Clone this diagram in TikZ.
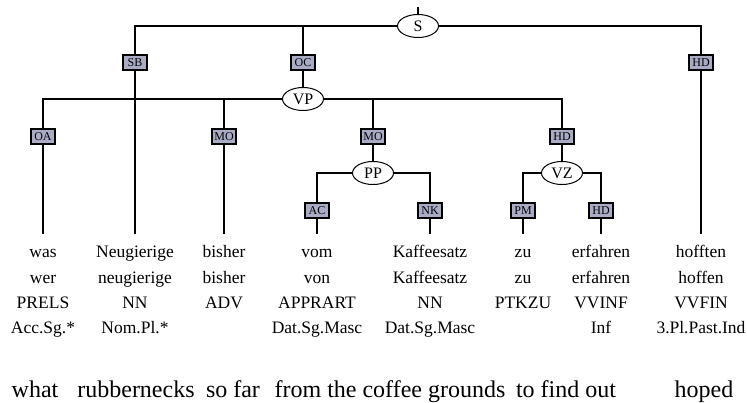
\documentclass[tikz,border=0pt]{standalone}
\usepackage{fontspec}
\setmainfont{Liberation Serif}
\usetikzlibrary{shapes.geometric}
\definecolor{labelgray}{RGB}{170,172,198}
\newcommand{\wordstack}[1]{\begin{tabular}[t]{@{}c@{}}#1\end{tabular}}

\begin{document}
\begin{tikzpicture}[x=1pt,y=-1pt,line width=1.5pt]
    \tikzset{cat/.style={ellipse,draw,fill=white,line width=1pt,minimum width=41pt,minimum height=23pt,inner sep=0pt,font=\fontsize{16}{16}\selectfont}}
    \tikzset{fn/.style={rectangle,draw,fill=labelgray,line width=2pt,minimum width=24pt,minimum height=15pt,inner sep=1.5pt,font=\fontsize{12}{12}\selectfont}}
    \tikzset{word/.style={anchor=north,inner sep=0pt,text height=23pt,font=\fontsize{17.5}{25.3}\selectfont}}
    \tikzset{gloss/.style={anchor=base,inner sep=0pt,font=\fontsize{24}{24}\selectfont}}
    \useasboundingbox (0,0) rectangle (747,403);
    \coordinate (top) at (418,7);
    \node[cat] (S) at (418,26) {S};
    \node[fn] (sb) at (135,63) {SB};
    \node[fn] (oc) at (303,63) {OC};
    \node[fn] (hd1) at (701,63) {HD};
    \node[cat] (VP) at (303,99) {VP};
    \node[fn] (oa) at (43,137) {OA};
    \node[fn] (mo1) at (224,137) {MO};
    \node[fn] (mo2) at (373,137) {MO};
    \node[fn] (hd2) at (562,137) {HD};
    \node[cat] (PP) at (373,173) {PP};
    \node[cat] (VZ) at (562,173) {VZ};
    \node[fn] (ac) at (317,211) {AC};
    \node[fn] (nk) at (430,211) {NK};
    \node[fn] (pm) at (523,211) {PM};
    \node[fn] (hd3) at (601,211) {HD};
    \node[word] (w1) at (43,234) {\wordstack{was\\wer\\PRELS\\Acc.Sg.*}};
    \node[word] (w2) at (135,234) {\wordstack{Neugierige\\neugierige\\NN\\Nom.Pl.*}};
    \node[word] (w3) at (224,234) {\wordstack{bisher\\bisher\\ADV}};
    \node[word] (w4) at (317,234) {\wordstack{vom\\von\\APPRART\\Dat.Sg.Masc}};
    \node[word] (w5) at (430,234) {\wordstack{Kaffeesatz\\Kaffeesatz\\NN\\Dat.Sg.Masc}};
    \node[word] (w6) at (523,234) {\wordstack{zu\\zu\\PTKZU}};
    \node[word] (w7) at (601,234) {\wordstack{erfahren\\erfahren\\VVINF\\Inf}};
    \node[word] (w8) at (701,234) {\wordstack{hofften\\hoffen\\VVFIN\\3.Pl.Past.Ind}};
    \node[gloss] (g1) at (35,397) {what};
    \node[gloss] (g2) at (136,397) {rubbernecks};
    \node[gloss] (g3) at (233,397) {so far};
    \node[gloss] (g4) at (390,397) {from the coffee grounds};
    \node[gloss] (g5) at (566,397) {to find out};
    \node[gloss] (g6) at (704,397) {hoped};
    \draw (S) -- (top);
    \draw (S) -| (sb);
    \draw (S) -| (oc);
    \draw (S) -| (hd1);
    \draw (sb) -- (w2);
    \draw (oc) -- (VP);
    \draw (hd1) -- (w8);
    \draw (VP) -| (oa);
    \draw (VP) -| (mo1);
    \draw (VP) -| (mo2);
    \draw (VP) -| (hd2);
    \draw (oa) -- (w1);
    \draw (mo1) -- (w3);
    \draw (mo2) -- (PP);
    \draw (hd2) -- (VZ);
    \draw (PP) -| (ac);
    \draw (PP) -| (nk);
    \draw (VZ) -| (pm);
    \draw (VZ) -| (hd3);
    \draw (ac) -- (w4);
    \draw (nk) -- (w5);
    \draw (pm) -- (w6);
    \draw (hd3) -- (w7);
\end{tikzpicture}
\end{document}
